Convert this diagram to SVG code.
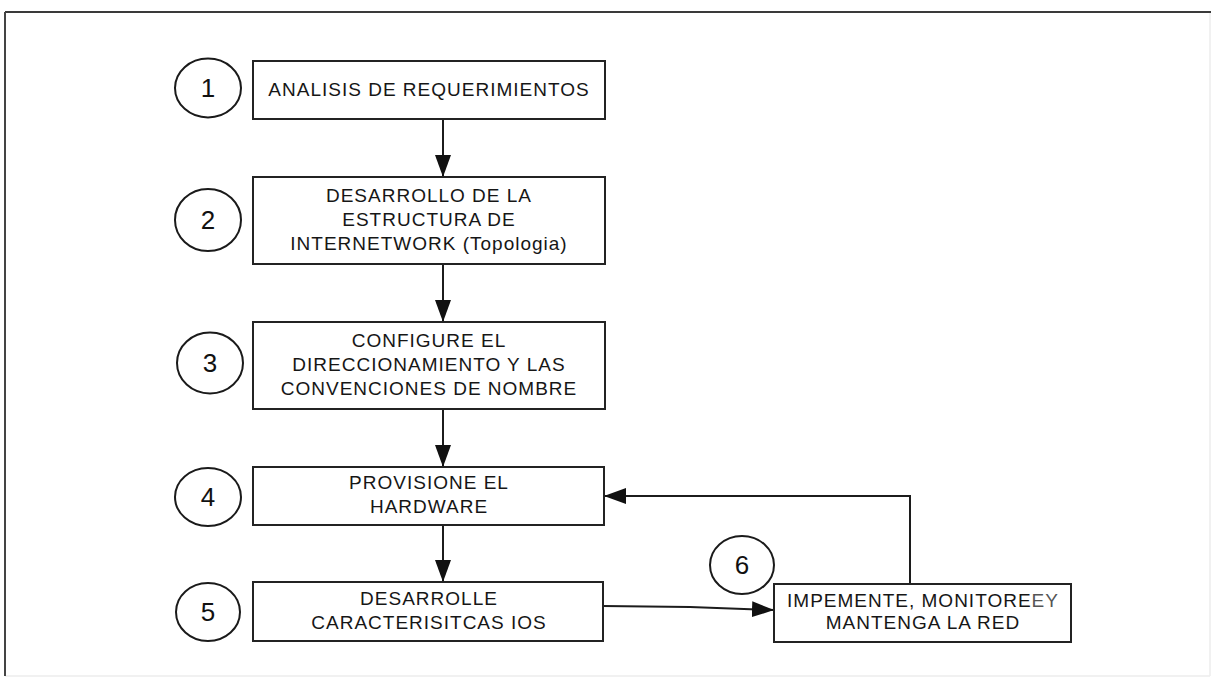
<svg xmlns="http://www.w3.org/2000/svg" width="1211" height="679" viewBox="0 0 1211 679">
  <style>
    .box { fill: #ffffff; stroke: #232323; stroke-width: 2; }
    .ring { fill: none; stroke: #1a1a1a; stroke-width: 2; }
    .lbl { font-family: "Liberation Sans", Arial, sans-serif; font-size: 19px; letter-spacing: 1px; fill: #161616; text-anchor: middle; }
    .num { font-family: "Liberation Sans", Arial, sans-serif; font-size: 26px; fill: #111; text-anchor: middle; }
    .wire { fill: none; stroke: #1c1c1c; stroke-width: 2; }
  </style>
  <defs>
    <marker id="head" viewBox="0 0 22 16" markerWidth="22" markerHeight="16" refX="22" refY="8" orient="auto" markerUnits="userSpaceOnUse">
      <path d="M0,0 L22,8 L0,16 z" fill="#111"/>
    </marker>
  </defs>

  <rect width="1211" height="679" fill="#ffffff"/>

  <!-- outer frame -->
  <g id="frame">
    <line x1="1210" y1="12" x2="1210" y2="676" stroke="#ececec" stroke-width="1.5"/>
    <line x1="5" y1="676" x2="1210" y2="676" stroke="#ececec" stroke-width="1.5"/>
    <line x1="5" y1="12" x2="1211" y2="12" stroke="#3a3a3a" stroke-width="2.2"/>
    <line x1="5" y1="12" x2="5" y2="676" stroke="#444" stroke-width="2"/>
  </g>

  <!-- connectors -->
  <g id="connectors">
    <line class="wire" x1="443" y1="119" x2="443" y2="177" marker-end="url(#head)"/>
    <line class="wire" x1="443" y1="264" x2="443" y2="322" marker-end="url(#head)"/>
    <line class="wire" x1="443" y1="409" x2="443" y2="467" marker-end="url(#head)"/>
    <line class="wire" x1="443" y1="525" x2="443" y2="582" marker-end="url(#head)"/>
    <path class="wire" d="M603,606 L690,607 L774,610" marker-end="url(#head)"/>
    <path class="wire" d="M910,584 L910,496 L604,496" marker-end="url(#head)"/>
  </g>

  <!-- step 1 -->
  <g id="step1">
    <ellipse class="ring" cx="208" cy="88" rx="33" ry="29.5"/>
    <text class="num" x="208" y="97">1</text>
    <rect class="box" x="253" y="61" width="352" height="58"/>
    <text class="lbl" x="429" y="96">ANALISIS DE REQUERIMIENTOS</text>
  </g>

  <!-- step 2 -->
  <g id="step2">
    <ellipse class="ring" cx="208" cy="220" rx="33" ry="31"/>
    <text class="num" x="208" y="229">2</text>
    <rect class="box" x="253" y="177" width="352" height="87"/>
    <text class="lbl" x="429" y="202">DESARROLLO DE LA</text>
    <text class="lbl" x="429" y="226">ESTRUCTURA DE</text>
    <text class="lbl" x="429" y="250">INTERNETWORK (Topologia)</text>
  </g>

  <!-- step 3 -->
  <g id="step3">
    <ellipse class="ring" cx="210" cy="363" rx="33" ry="30.5"/>
    <text class="num" x="210" y="372">3</text>
    <rect class="box" x="253" y="322" width="352" height="87"/>
    <text class="lbl" x="429" y="347">CONFIGURE EL</text>
    <text class="lbl" x="429" y="371">DIRECCIONAMIENTO Y LAS</text>
    <text class="lbl" x="429" y="395">CONVENCIONES DE NOMBRE</text>
  </g>

  <!-- step 4 -->
  <g id="step4">
    <ellipse class="ring" cx="208" cy="497" rx="33" ry="29"/>
    <text class="num" x="208" y="506">4</text>
    <rect class="box" x="253" y="467" width="351" height="58"/>
    <text class="lbl" x="429" y="489">PROVISIONE EL</text>
    <text class="lbl" x="429" y="513">HARDWARE</text>
  </g>

  <!-- step 5 -->
  <g id="step5">
    <ellipse class="ring" cx="208" cy="612" rx="32" ry="29"/>
    <text class="num" x="208" y="621">5</text>
    <rect class="box" x="253" y="582" width="350" height="59"/>
    <text class="lbl" x="429" y="605">DESARROLLE</text>
    <text class="lbl" x="429" y="629">CARACTERISITCAS IOS</text>
  </g>

  <!-- step 6 -->
  <g id="step6">
    <ellipse class="ring" cx="742" cy="565" rx="32" ry="29"/>
    <text class="num" x="742" y="574">6</text>
    <rect class="box" x="774" y="584" width="297" height="58"/>
    <text class="lbl" x="923" y="607">IMPEMENTE, MONITORE<tspan fill="#555">EY</tspan></text>
    <text class="lbl" x="923" y="629">MANTENGA LA RED</text>
  </g>
</svg>
